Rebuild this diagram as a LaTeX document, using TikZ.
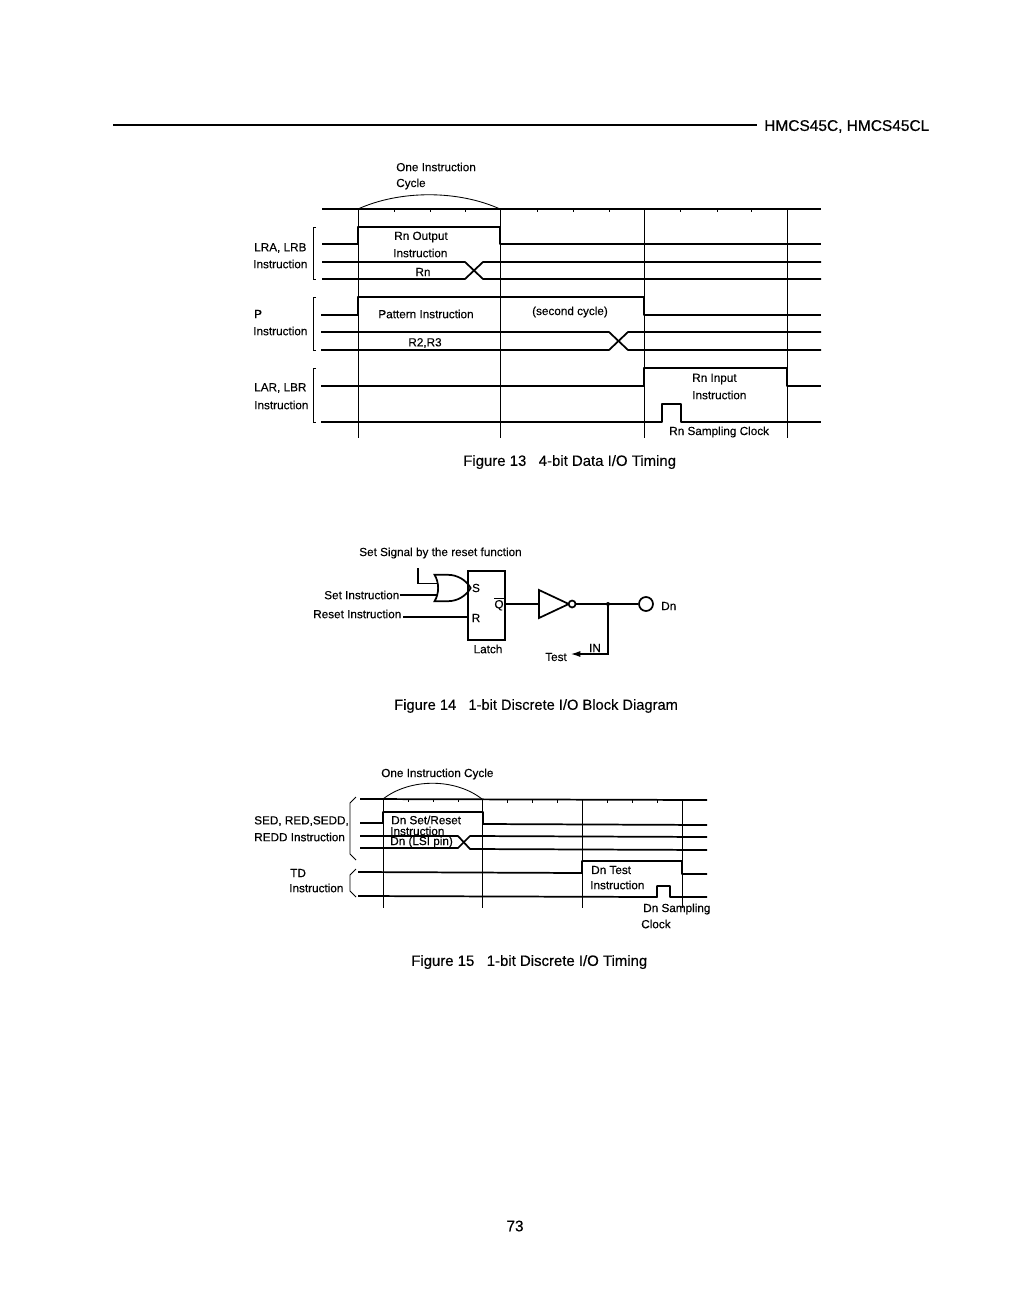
\documentclass[tikz,border=0pt]{standalone}
\usepackage{amsmath}
\usepackage{fontspec}
\setmainfont[FakeBold=0.15]{Liberation Sans}
\newfontfamily\heavyfont[FakeBold=0.5]{Liberation Sans}
\usetikzlibrary{arrows.meta,positioning,shapes.gates.logic.US}

\tikzset{
  lbl/.style={font=\fontsize{8.8}{10}\selectfont, inner sep=0pt, anchor=west, yshift=-0.75pt},
  ctr/.style={font=\fontsize{8.8}{10}\selectfont, inner sep=0pt, yshift=-0.75pt},
  hlbl/.style={lbl, font=\fontsize{8.8}{10}\selectfont\heavyfont},
  figcap/.style={font=\fontsize{11.2}{12}\selectfont, inner sep=0pt, anchor=west, yshift=-0.75pt},
  sig/.style={line width=1.3pt, line join=round},
  gridl/.style={line width=0.65pt},
  brk/.style={line width=0.7pt},
  wire/.style={line width=0.8pt},
  gate/.style={draw, line width=1.3pt, inner sep=0pt}
}

\begin{document}
\begin{tikzpicture}[x=0.75pt,y=-0.75pt]
  \useasboundingbox (0,0) rectangle (1008,1296);

  % Page header
  \coordinate (hl) at (113,125);
  \node[anchor=west, inner sep=0pt, font=\fontsize{11.6}{13}\selectfont\heavyfont] (hdr) at (764,126.5) {HMCS45C, HMCS45CL};
  \draw[line width=0.8pt] (hl) -- (757,125);

  % Figure 13: time base
  \draw[sig] (322,209) -- (821,209);
  \draw[gridl] (358,209) -- (358,438) (500,209) -- (500,438) (644,209) -- (644,438) (787,209) -- (787,438);
  \draw[gridl] (394,209) -- ++(0,3) (430,209) -- ++(0,3) (465,209) -- ++(0,3)
              (537,209) -- ++(0,3) (573,209) -- ++(0,3) (609,209) -- ++(0,3)
              (680,209) -- ++(0,3) (717,209) -- ++(0,3) (751,209) -- ++(0,3);
  \draw[gridl] (358,209) .. controls (400,190) and (458,190) .. (500,209);

  % Figure 13: LRA, LRB
  \draw[brk] (316,227) -- (313,227) -- (313,279) -- (316,279);
  \draw[sig] (322,244) -- (358,244) -- (358,227) -- (500,227) -- (500,244) -- (821,244);
  \draw[sig] (322,262) -- (465,262) -- (483,279) -- (821,279);
  \draw[sig] (322,279) -- (465,279) -- (483,262) -- (821,262);

  % Figure 13: P
  \draw[brk] (316,297) -- (313,297) -- (313,350) -- (316,350);
  \draw[sig] (321,315) -- (358,315) -- (358,297) -- (644,297) -- (644,315) -- (821,315);
  \draw[sig] (321,332) -- (609,332) -- (628,350) -- (821,350);
  \draw[sig] (321,350) -- (609,350) -- (628,332) -- (821,332);

  % Figure 13: LAR, LBR
  \draw[brk] (316,368) -- (313,368) -- (313,422) -- (316,422);
  \draw[sig] (321,386) -- (644,386) -- (644,368) -- (787,368) -- (787,386) -- (821,386);
  \draw[sig] (321,422) -- (662,422) -- (662,404) -- (681,404) -- (681,422) -- (821,422);

  % Figure 13: labels
  \node[lbl] (oneA) at (396,166) {One Instruction};
  \node[lbl] (cycA) at (396,183) {Cycle};
  \node[lbl] (lra) at (254,247) {LRA, LRB};
  \node[lbl] (lraI) at (253,263) {Instruction};
  \node[lbl] (rnout) at (394,236) {Rn Output};
  \node[lbl] (rnoutI) at (393,252) {Instruction};
  \node[ctr] (rn) at (423,271) {Rn};
  \node[lbl] (pp) at (254,313) {P};
  \node[lbl] (ppI) at (253,330) {Instruction};
  \node[ctr] (patt) at (426,313) {Pattern Instruction};
  \node[ctr] (second) at (570,311) {(second cycle)};
  \node[ctr] (rr) at (425,342) {R2,R3};
  \node[lbl] (lar) at (254,387) {LAR, LBR};
  \node[lbl] (larI) at (254,404) {Instruction};
  \node[lbl] (rnin) at (692,378) {Rn Input};
  \node[lbl] (rninI) at (692,394) {Instruction};
  \node[lbl] (rnclk) at (669,431) {Rn Sampling Clock};
  \node[figcap] (figA) at (463,461) {Figure 13\ \ \ 4-bit Data I/O Timing};

  % Figure 14: blocks
  \node[draw, line width=1.3pt, minimum width=27.75pt, minimum height=51.75pt, inner sep=0pt] (latch) at (486.5,605.5) {};
  \node[or gate US, gate, minimum width=24.75pt, minimum height=18.75pt] (org) at (450,588) {};
  \node[not gate US, gate, logic gate inverted radius=2.6pt, minimum width=18pt, minimum height=18pt] (inv) at (549,604) {};
  \node[draw, circle, line width=1.3pt, minimum size=10.5pt, inner sep=0pt] (dnp) at (646,604) {};

  % Figure 14: wires
  \coordinate (sset) at (418,568);
  \coordinate (rsta) at (403,617);
  \coordinate (jn) at (608,604);
  \coordinate (tst) at (571,654);
  \draw[wire] (sset) |- (org.input 1);
  \draw[wire] (rsta) -- (rsta -| latch.west);
  \draw[wire] (latch.east |- inv.input) -- (inv.input);
  \draw[wire] (inv.output) -- (jn) -- (dnp.west);
  \draw[wire, -{Latex[length=7pt,width=4.5pt]}] (jn) |- (tst);
  \fill (jn) circle (2);

  % Figure 14: labels
  \node[lbl] (ssig) at (359,552) {Set Signal by the reset function};
  \node[lbl] (setI) at (324,594) {Set Instruction};
  \node[lbl] (rstI) at (313,613) {Reset Instruction};
  \draw[wire] (setI.east) -- (org.input 2 |- setI.east);
  \node[ctr] (ss) at (476,587) {S};
  \node[ctr] (rr2) at (476,617) {R};
  \node[ctr] (qb) at (499,603) {$\overline{\text{Q}}$};
  \node[ctr] (ltc) at (488,648) {Latch};
  \node[lbl] (dnl) at (661,605) {Dn};
  \node[ctr] (inl) at (595,647) {IN};
  \node[lbl] (tsl) at (545,656) {Test};
  \node[figcap, font=\fontsize{11}{12}\selectfont] (figB) at (394,705) {Figure 14\ \ \ 1-bit Discrete I/O Block Diagram};

  % Figure 15: time base
  \draw[sig] (360,799) -- (707,800);
  \draw[gridl] (383,799) -- (383,908) (482,799) -- (482,908) (582,799) -- (582,908) (682,799) -- (682,908);
  \draw[gridl] (408,799) -- ++(0,3) (433,799) -- ++(0,3) (458,799) -- ++(0,3)
              (507,800) -- ++(0,3) (532,800) -- ++(0,3) (557,800) -- ++(0,3)
              (607,800) -- ++(0,3) (632,800) -- ++(0,3) (657,800) -- ++(0,3);
  \draw[gridl] (383,799) .. controls (410,778) and (455,778) .. (482,799);

  % Figure 15: SED, RED
  \draw[brk] (356,797) -- (350,803) -- (350,854) -- (356,860);
  \draw[sig] (360,823) -- (383,823) -- (383,812) -- (483,812) -- (483,824) -- (707,825);
  \draw[sig] (360,836) -- (458,836) -- (470,849) -- (707,850);
  \draw[sig] (360,848) -- (458,848) -- (470,836) -- (707,837);

  % Figure 15: TD
  \draw[brk] (356,869) -- (350,875) -- (350,891) -- (356,897);
  \draw[sig] (358,872) -- (582,873) -- (582,861) -- (682,861) -- (682,874) -- (707,874);
  \draw[sig] (358,896) -- (657,897) -- (657,886) -- (670,886) -- (670,897) -- (707,897);

  % Figure 15: labels
  \node[hlbl] (oneB) at (381,773) {One Instruction Cycle};
  \node[hlbl] (sed) at (254,820) {SED, RED,SEDD,};
  \node[hlbl] (redd) at (254,836) {REDD Instruction};
  \node[hlbl] (dnset) at (391,819) {Dn Set/Reset};
  \node[hlbl] (dnsetI) at (390,830) {Instruction};
  \node[hlbl] (dnlsi) at (390,841) {Dn (LSI pin)};
  \node[hlbl] (td) at (290,872) {TD};
  \node[hlbl] (tdI) at (289,887) {Instruction};
  \node[hlbl] (dntest) at (591,869) {Dn Test};
  \node[hlbl] (dntestI) at (590,884) {Instruction};
  \node[hlbl] (dnsmp) at (643,908) {Dn Sampling};
  \node[hlbl] (dnclk) at (641,923) {Clock};
  \node[figcap, font=\fontsize{11.2}{12}\selectfont\heavyfont] (figC) at (411,961) {Figure 15\ \ \ 1-bit Discrete I/O Timing};

  % Page number
  \node[font=\fontsize{11.5}{13}\selectfont\heavyfont, inner sep=0pt] (pgn) at (515,1226) {73};
\end{tikzpicture}
\end{document}
